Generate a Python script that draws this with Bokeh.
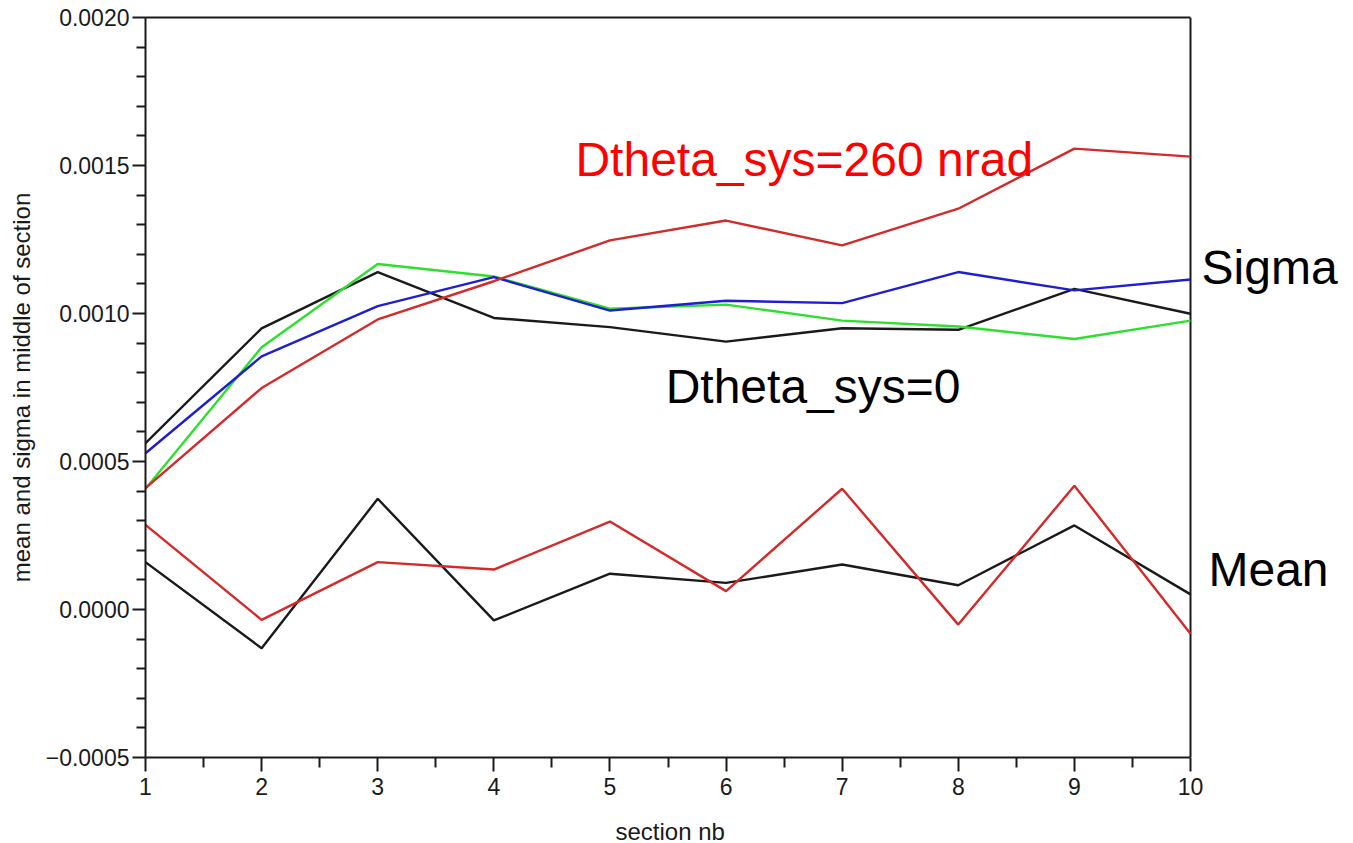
from bokeh.plotting import figure
from bokeh.models import Range1d, FixedTicker, Label, LinearAxis, Title
from bokeh.embed import file_html
from bokeh.resources import INLINE

# ---------------- data ----------------
sections = [1, 2, 3, 4, 5, 6, 7, 8, 9, 10]

# Sigma curves
sigma_black = [0.000562, 0.000950, 0.001140, 0.000985, 0.000954, 0.000905, 0.000950, 0.000945, 0.001083, 0.000999]
sigma_blue  = [0.000528, 0.000855, 0.001025, 0.001123, 0.001010, 0.001043, 0.001035, 0.001140, 0.001078, 0.001115]
sigma_green = [0.000408, 0.000886, 0.001167, 0.001125, 0.001016, 0.001030, 0.000976, 0.000956, 0.000914, 0.000976]
sigma_red   = [0.000410, 0.000748, 0.000980, 0.001109, 0.001247, 0.001314, 0.001230, 0.001354, 0.001557, 0.001530]

# Mean curves
mean_black = [0.000160, -0.000131, 0.000374, -0.000037, 0.000121, 0.000090, 0.000152, 0.000082, 0.000284, 0.000051]
mean_red   = [0.000286, -0.000035, 0.000160, 0.000135, 0.000297, 0.000062, 0.000408, -0.000051, 0.000418, -0.000082]

x_min, x_max = 1, 10
y_min, y_max = -0.0005, 0.0020
x_ticks = [1, 2, 3, 4, 5, 6, 7, 8, 9, 10]
x_minor_ticks = [1.5, 2.5, 3.5, 4.5, 5.5, 6.5, 7.5, 8.5, 9.5]
y_ticks = [-0.0005, 0.0, 0.0005, 0.0010, 0.0015, 0.0020]
y_tick_labels = ["\u22120.0005", "0.0000", "0.0005", "0.0010", "0.0015", "0.0020"]
y_minor_ticks = [-0.0004, -0.0003, -0.0002, -0.0001,
                 0.0001, 0.0002, 0.0003, 0.0004,
                 0.0006, 0.0007, 0.0008, 0.0009,
                 0.0011, 0.0012, 0.0013, 0.0014,
                 0.0016, 0.0017, 0.0018, 0.0019]

x_title = "section nb"
y_title = "mean and sigma in middle of section"

# annotations: (text, x, y, color)
annotations = [
    ("Dtheta_sys=260 nrad", 4.703, 0.001520, "#ff0000"),
    ("Dtheta_sys=0", 5.480, 0.000754, "#000000"),
    ("Sigma", 10.095, 0.001156, "#000000"),
    ("Mean", 10.155, 0.000135, "#000000"),
]

# ---------------- figure ----------------
FONT = "Liberation Sans"
INK = "#1a1a1a"

# frame extends to the right window edge so that the side labels are not clipped;
# the visible box ends at x = 10 (top axis + right line)
px_per_unit = 1045 / (x_max - x_min)
x_end = x_max + 163 / px_per_unit

p = figure(width=1353, height=843, output_backend="svg", toolbar_location=None,
           x_range=Range1d(x_min, x_end), y_range=Range1d(y_min, y_max),
           min_border_left=145, min_border_right=0, min_border_top=17, min_border_bottom=86)
p.frame_width = 1208
p.frame_height = 740

p.background_fill_color = "white"
p.border_fill_color = "white"
p.outline_line_color = None
p.grid.visible = False

# x axis
xa = p.xaxis[0]
xa.ticker = FixedTicker(ticks=x_ticks, minor_ticks=x_minor_ticks)
xa.bounds = (x_min, x_max)
# y axis
ya = p.yaxis[0]
ya.ticker = FixedTicker(ticks=y_ticks, minor_ticks=y_minor_ticks)
ya.major_label_overrides = {t: l for t, l in zip(y_ticks, y_tick_labels)}
ya.axis_label = y_title

for ax in (xa, ya):
    ax.axis_line_color = INK
    ax.axis_line_width = 2
    ax.major_tick_line_color = INK
    ax.major_tick_line_width = 2
    ax.minor_tick_line_color = INK
    ax.minor_tick_line_width = 2
    ax.major_tick_in = 0
    ax.minor_tick_in = 0
    ax.major_label_text_font = FONT
    ax.major_label_text_font_size = "23px"
    ax.major_label_text_color = INK
    ax.axis_label_text_font = FONT
    ax.axis_label_text_font_size = "24px"
    ax.axis_label_text_font_style = "normal"
    ax.axis_label_text_color = INK

xa.major_tick_out = 14
xa.minor_tick_out = 10
xa.major_label_standoff = 6

ya.major_tick_out = 13
ya.minor_tick_out = 9
ya.major_label_standoff = 3
ya.axis_label_standoff = 8

# x axis title, centred under the visible box (x = 1..10)
p.add_layout(Title(text=x_title, align="left", offset=470, standoff=36,
                   text_font=FONT, text_font_size="24px", text_font_style="normal",
                   text_color=INK), "below")

# top border of the box (plain axis line, no ticks/labels)
top = LinearAxis(bounds=(x_min, x_max), axis_line_color=INK, axis_line_width=2,
                 major_tick_line_color=None, minor_tick_line_color=None,
                 major_label_text_font_size="0px", major_label_text_color=None)
p.add_layout(top, "above")

# right border of the box
p.line([x_max, x_max], [y_min, y_max], line_color=INK, line_width=2)

# lines
LW = 2.4
p.line(sections, sigma_black, line_color=INK, line_width=LW)
p.line(sections, sigma_green, line_color="#2ee02e", line_width=LW)
p.line(sections, sigma_blue, line_color="#1f1fd0", line_width=LW)
p.line(sections, sigma_red, line_color="#d42a2a", line_width=LW)
p.line(sections, mean_black, line_color=INK, line_width=LW)
p.line(sections, mean_red, line_color="#d42a2a", line_width=LW)

for txt, x, y, col in annotations:
    p.add_layout(Label(x=x, y=y, text=txt, text_color=col, text_font=FONT,
                       text_font_size="48px", text_baseline="alphabetic", text_align="left"))

open("out.html", "w").write(file_html(p, INLINE))
